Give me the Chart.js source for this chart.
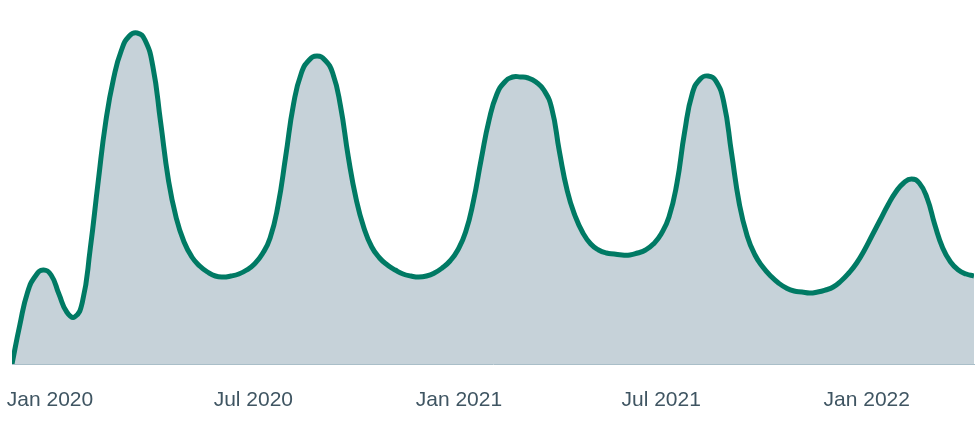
<!DOCTYPE html>
<html>
<head>
<meta charset="utf-8">
<script src="https://cdn.jsdelivr.net/npm/chart.js@4/dist/chart.umd.min.js"></script>
<style>
  html, body { margin: 0; padding: 0; background: #ffffff; }
  #wrap { width: 976px; height: 429px; position: relative; }
</style>
</head>
<body>
<div id="wrap"><canvas id="c" width="976" height="429"></canvas></div>
<script>
// ---- data (weekly) ----
const dates = [
  "2019-11-28","2019-12-05","2019-12-12","2019-12-19","2019-12-26",
  "2020-01-02","2020-01-09","2020-01-16","2020-01-23","2020-01-30",
  "2020-02-06","2020-02-13","2020-02-20","2020-02-27",
  "2020-03-05","2020-03-12","2020-03-19","2020-03-26",
  "2020-04-02","2020-04-09","2020-04-16","2020-04-23","2020-04-30",
  "2020-05-07","2020-05-14","2020-05-21","2020-05-28",
  "2020-06-04","2020-06-11","2020-06-18","2020-06-25",
  "2020-07-02","2020-07-09","2020-07-16","2020-07-23","2020-07-30",
  "2020-08-06","2020-08-13","2020-08-20","2020-08-27",
  "2020-09-03","2020-09-10","2020-09-17","2020-09-24",
  "2020-10-01","2020-10-08","2020-10-15","2020-10-22","2020-10-29",
  "2020-11-05","2020-11-12","2020-11-19","2020-11-26",
  "2020-12-03","2020-12-10","2020-12-17","2020-12-24","2020-12-31",
  "2021-01-07","2021-01-14","2021-01-21","2021-01-28",
  "2021-02-04","2021-02-11","2021-02-18","2021-02-25",
  "2021-03-04","2021-03-11","2021-03-18","2021-03-25",
  "2021-04-01","2021-04-08","2021-04-15","2021-04-22","2021-04-29",
  "2021-05-06","2021-05-13","2021-05-20","2021-05-27",
  "2021-06-03","2021-06-10","2021-06-17","2021-06-24",
  "2021-07-01","2021-07-08","2021-07-15","2021-07-22","2021-07-29",
  "2021-08-05","2021-08-12","2021-08-19","2021-08-26",
  "2021-09-02","2021-09-09","2021-09-16","2021-09-23","2021-09-30",
  "2021-10-07","2021-10-14","2021-10-21","2021-10-28",
  "2021-11-04","2021-11-11","2021-11-18","2021-11-25",
  "2021-12-02","2021-12-09","2021-12-16","2021-12-23","2021-12-30",
  "2022-01-06","2022-01-13","2022-01-20","2022-01-27",
  "2022-02-03","2022-02-10","2022-02-17","2022-02-24",
  "2022-03-03","2022-03-10","2022-03-17","2022-03-24","2022-03-31",
  "2022-04-07"
];
const values = [
  0, 39, 72, 88, 94,
  89, 70, 52, 47, 62,
  115, 181, 243, 286,
  314, 328, 331, 324,
  298, 242, 184, 146, 122,
  107, 98, 92, 88,
  87, 88, 90, 94,
  100, 110, 126, 158, 208,
  260, 291, 304, 308,
  304, 291, 258, 207,
  165, 136, 117, 106, 99,
  94, 90, 88, 87,
  88, 91, 96, 103, 114,
  132, 163, 205, 244,
  270, 282, 287, 287,
  286, 282, 274, 256,
  212, 173, 148, 131, 120,
  114, 111, 110, 109,
  109, 111, 114, 120,
  130, 147, 180, 232, 271,
  285, 288, 283, 262,
  211, 160, 128, 109, 97,
  88, 81, 76, 73,
  72, 71, 72, 74,
  77, 83, 91, 101, 114,
  129, 144, 159, 172,
  181, 185, 181, 166,
  139, 116, 102, 94, 90,
  88
];
const tickDates = ["2020-01-01","2020-07-01","2021-01-01","2021-07-01","2022-01-01"];
const tickLabels = ["Jan 2020","Jul 2020","Jan 2021","Jul 2021","Jan 2022"];

// ---- helpers ----
const DAY = 86400000;
const toDay = s => Date.parse(s + "T00:00:00Z") / DAY;
const points = dates.map((d, i) => ({ x: toDay(d), y: values[i] }));
const tickDays = tickDates.map(toDay);

new Chart(document.getElementById('c'), {
  type: 'line',
  data: {
    datasets: [{
      data: points,
      borderColor: '#007a64',
      borderWidth: 5,
      backgroundColor: '#c6d2d9',
      fill: 'origin',
      pointRadius: 0,
      tension: 0.5
    }]
  },
  options: {
    responsive: false,
    animation: false,
    events: [],
    layout: { padding: { left: 12, right: 2, top: 0, bottom: 0 } },
    plugins: { legend: { display: false }, tooltip: { enabled: false } },
    scales: {
      x: {
        type: 'linear',
        min: toDay(dates[0]),
        max: toDay(dates[dates.length - 1]),
        grid: { display: false, drawTicks: false },
        border: { display: true, color: '#a9bec8', width: 1 },
        afterBuildTicks: (scale) => { scale.ticks = tickDays.map(v => ({ value: v })); },
        afterFit: (scale) => { scale.height = 65; scale.paddingLeft = 0; scale.paddingRight = 0; },
        ticks: {
          autoSkip: false,
          maxRotation: 0,
          padding: 24,
          color: '#3f5562',
          font: { family: 'Liberation Sans', size: 21 },
          callback: (v) => { const i = tickDays.indexOf(v); return i >= 0 ? tickLabels[i] : ''; }
        }
      },
      y: {
        display: false,
        min: 0,
        max: 364
      }
    }
  }
});
</script>
</body>
</html>
